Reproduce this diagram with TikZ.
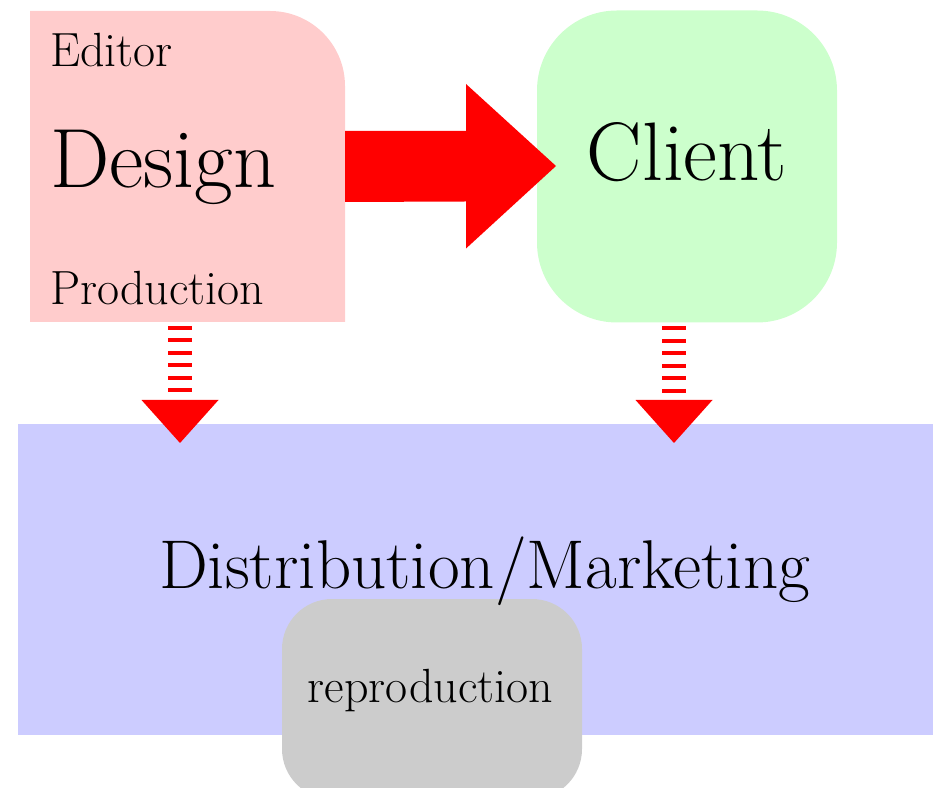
\documentclass[tikz,border=0pt]{standalone}
\usepackage{tikz}
\usetikzlibrary{calc,positioning}
\definecolor{pinkbox}{HTML}{FFCCCC}
\definecolor{greenbox}{HTML}{CCFFCC}
\definecolor{bluebox}{HTML}{CCCCFF}
\definecolor{greybox}{HTML}{CCCCCC}
\definecolor{arrowred}{HTML}{FF0000}

\begin{document}
\begin{tikzpicture}[x=1pt,y=1pt,inner sep=0pt,outer sep=0pt]
  \tikzstyle{box}=[minimum width=300pt,minimum height=312pt]
  \tikzstyle{stripes}=[draw=arrowred,line width=24pt,dash pattern=on 4pt off 8.5pt]
  \tikzstyle{small}=[font=\fontsize{48}{54}\selectfont]
  \tikzstyle{big}=[font=\fontsize{84}{96}\selectfont]
  \useasboundingbox (0,0) rectangle (933,787);

  % boxes
  \node[box,fill=bluebox,minimum width=915pt,minimum height=311pt] (distr) at (475.5,207.5) {};
  \node[box,fill=greybox,rounded corners=50pt,minimum height=200pt] (repro) at (432,88) {};
  \node[box,minimum width=315pt,minimum height=311pt] (design) at (187.5,620.5) {};
  \fill[pinkbox] (design.south west) -- (design.north west) -- ($(design.north east)+(-75,0)$)
     arc[start angle=90,end angle=0,radius=75pt] -- (design.south east) -- cycle;
  \node[box,fill=greenbox,rounded corners=80pt,right=192pt of design] (client) {};

  % texts
  \node[small,anchor=base west] (editor) at (50,720) {Editor};
  \node[big,anchor=base west] (designtext) at (50,599) {Design};
  \node[small,anchor=base west] (production) at (50,482) {Production};
  \node[big,font=\fontsize{83}{96}\selectfont,anchor=base] (clienttext) at (687,606) {Client};
  \node[font=\fontsize{69}{80}\selectfont,anchor=base] (distrtext) at (484.5,199) {Distribution/Marketing};
  \node[small,anchor=base] (reprotext) at (430.5,85) {reproduction};

  % arrows
  \coordinate (ltip) at (180,344);
  \coordinate (rtip) at (674,344);
  \fill[arrowred] ($(design.east)+(0,35.5)$) -- ++(121,0) -- ++(0,47) -- ($(client.west)+(19,0.5)$)
     -- ++(-90,-82.5) -- ++(0,47) -- ($(design.east)+(0,-35.5)$) -- cycle;
  \draw[stripes] ([xshift=-7.5pt,yshift=-4pt]design.south) -- ($(ltip)+(0,43)$);
  \draw[stripes] ([xshift=-13pt,yshift=-4pt]client.south) -- ($(rtip)+(0,43)$);
  \fill[arrowred] ($(ltip)+(-38.5,43)$) -- ($(ltip)+(38.5,43)$) -- (ltip) -- cycle;
  \fill[arrowred] ($(rtip)+(-38.5,43)$) -- ($(rtip)+(38.5,43)$) -- (rtip) -- cycle;
\end{tikzpicture}
\end{document}
